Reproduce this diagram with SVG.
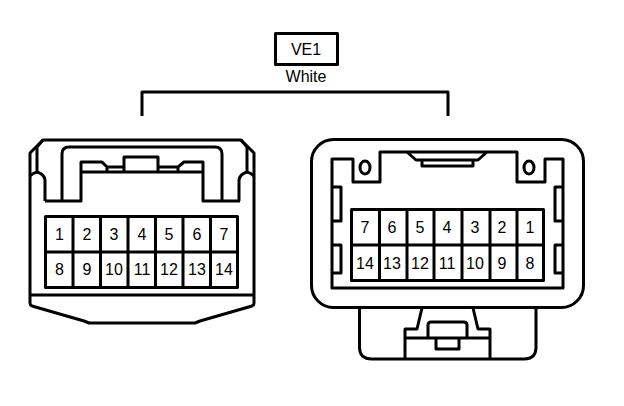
<svg xmlns="http://www.w3.org/2000/svg" width="624" height="406" viewBox="0 0 624 406">
<style>
.l{fill:none;stroke:#000;stroke-width:3;stroke-linejoin:round}
text{font-family:"Liberation Sans",Arial,sans-serif;font-size:16px;fill:#000;text-anchor:middle}
</style>
<rect width="624" height="406" fill="#fff"/>
<g id="connectors"><path class="l" d="M142 116V92H448V116"/></g>
<g id="label">
<rect class="l" x="275.500" y="33.500" width="62" height="31"/>
<text x="306" y="55">VE1</text>
<text x="306" y="82">White</text>
</g>
<g id="connector-left">
<path class="l" d="M45 201V180Q44 174 37 172Q33 173 30 176M43 140L37 147V172M241 140L247 147V172M239 201V180Q240 174 247 172Q251 173 254 176"/>
<path class="l" d="M30 295V153L43 140H241L254 153V303Q254 305 252 306L200 321L195 323H89L84 321L32 306Q30 305 30 303V295H254"/>
<path class="l" d="M45 201H81V162H102L107 167H124V157H158V167H178L184 162H203V201H240M62 201V154Q62 147 69 147H215Q222 147 222 154V201M81 172H203M107 167V172M178 167V172M124 167V172M158 167V172"/>
<rect class="l" x="45.500" y="216.500" width="192" height="71"/>
<path class="l" d="M45 252H238M73 216V287M100.500 216V287M128 216V287M155.500 216V287M183 216V287M210.500 216V287"/>
<text x="59.500" y="240">1</text><text x="87" y="240">2</text><text x="114" y="240">3</text><text x="142" y="240">4</text><text x="169" y="240">5</text><text x="197" y="240">6</text><text x="224" y="240">7</text>
<text x="59.500" y="275">8</text><text x="87" y="275">9</text><text x="114" y="275">10</text><text x="142" y="275">11</text><text x="169" y="275">12</text><text x="197" y="275">13</text><text x="224" y="275">14</text>
</g>
<g id="connector-right">
<rect class="l" x="311.500" y="139.500" width="272" height="168" rx="22"/>
<path class="l" d="M332 159H353V182H380V152H517V182H545V159H563V288H332ZM407 152L416 160H478L487 152M422 160V166H473V160"/>
<ellipse class="l" cx="365" cy="167.500" rx="5" ry="6.500"/>
<ellipse class="l" cx="529" cy="167.500" rx="5" ry="6.500"/>
<path class="l" d="M332 187H341V221H332M332 245H341V273H332M563 187H555V221H563M563 245H555V273H563"/>
<rect class="l" x="351.500" y="209.500" width="192" height="71"/>
<path class="l" d="M352 245H544M379.500 209V280M407 209V280M434 209V280M462 209V280M490 209V280M517 209V280"/>
<text x="365" y="233">7</text><text x="392" y="233">6</text><text x="420" y="233">5</text><text x="447" y="233">4</text><text x="475" y="233">3</text><text x="502" y="233">2</text><text x="530" y="233">1</text>
<text x="365" y="269">14</text><text x="392" y="269">13</text><text x="420" y="269">12</text><text x="447" y="269">11</text><text x="475" y="269">10</text><text x="502" y="269">9</text><text x="530" y="269">8</text>
<path class="l" d="M359.500 308V347Q359.500 359 372 359H524Q536 359 536 347V308M405 359V329H417L422 308M490 359V329H478L473 308M405 338H490M428 338V325Q428 322 431 322H464Q467 322 467 325V338M436 338V349H459V338"/>
</g>
</svg>
